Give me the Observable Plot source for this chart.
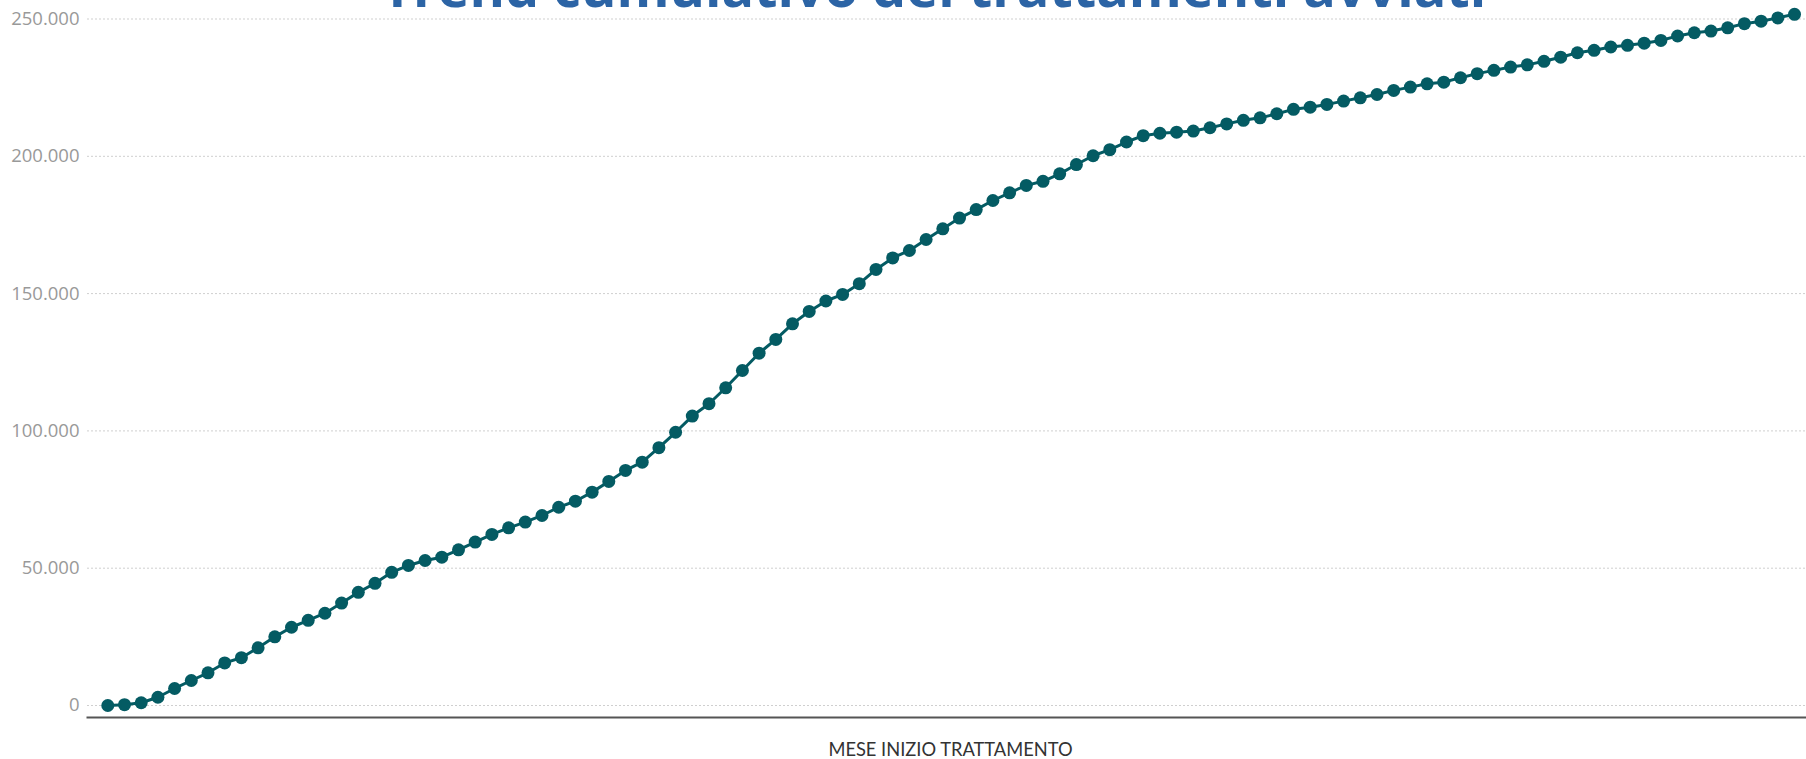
<!DOCTYPE html>
<html><head><meta charset="utf-8">
<script src="https://cdn.jsdelivr.net/npm/d3@7"></script>
<script src="https://cdn.jsdelivr.net/npm/@observablehq/plot@0.6"></script>
<style>
body{margin:0;background:#fff;width:1806px;height:759px;overflow:hidden;position:relative}
#title{position:absolute;left:62px;top:-41px;width:1744px;text-align:center;margin:0;font:700 54px/54px 'Open Sans';color:#2c64a5;z-index:2;white-space:nowrap}
#chart{position:absolute;left:0;top:0}
#xlabel{position:absolute;left:95px;width:1711px;top:739px;text-align:center;font:400 18.3px/20px Lato;color:#333}
</style></head><body>
<div id="chart"></div>
<h1 id="title">Trend cumulativo dei trattamenti avviati</h1>
<div id="xlabel">MESE INIZIO TRATTAMENTO</div>
<script>
// Mese (indice progressivo) e trattamenti cumulativi avviati
const mesi = d3.range(1, 103);
const trattamenti = [
  0, 300, 1000, 3000, 6200, 9100, 11900, 15500, 17400, 21000,
  25000, 28500, 31000, 33600, 37300, 41200, 44500, 48500, 51000, 52800,
  54000, 56700, 59500, 62300, 64700, 66800, 69200, 72200, 74400, 77700,
  81600, 85600, 88600, 93900, 99500, 105400, 109900, 115700, 122000, 128300,
  133300, 139000, 143500, 147300, 149700, 153600, 158800, 163000, 165700, 169700,
  173600, 177500, 180600, 183900, 186700, 189400, 190900, 193600, 197000, 200200,
  202400, 205200, 207500, 208400, 208800, 209200, 210400, 211800, 213100, 214000,
  215500, 217100, 217900, 218900, 220100, 221300, 222500, 224000, 225200, 226400,
  227000, 228600, 230100, 231300, 232500, 233300, 234600, 236100, 237700, 238600,
  239800, 240400, 241200, 242200, 243800, 245000, 245600, 246800, 248300, 249200,
  250400, 251700
];
const yTicks = [0, 50000, 100000, 150000, 200000, 250000];

const it = d3.formatLocale({decimal: ",", thousands: ".", grouping: [3], currency: ["€", ""]});
const fmt = it.format(",d");
const data = mesi.map((m, i) => ({mese: m, valore: trattamenti[i]}));

const chart = Plot.plot({
  width: 1806, height: 725,
  marginLeft: 87, marginRight: 0, marginTop: 18.5, marginBottom: 8,
  style: {background: "transparent", overflow: "visible", fontFamily: "'Open Sans'", fontSize: "18px"},
  x: {domain: [1, 102], insetLeft: 20.3, insetRight: 12, axis: null},
  y: {domain: [0, 250000], insetBottom: 12, axis: null},
  marks: [
    Plot.ruleY(yTicks, {stroke: "#cfcfcf", strokeDasharray: "2,2", strokeWidth: 1}),
    Plot.axisY(yTicks, {tickSize: 0, tickPadding: 8, tickFormat: fmt, color: "#999", label: null, fontSize: 18.5}),
    Plot.frame({anchor: "bottom", stroke: "#555", strokeWidth: 2}),
    Plot.line(data, {x: "mese", y: "valore", stroke: "#045b63", strokeWidth: 3}),
    Plot.dot(data, {x: "mese", y: "valore", fill: "#045b63", r: 6.5})
  ]
});
document.getElementById("chart").append(chart);
</script>
</body></html>
